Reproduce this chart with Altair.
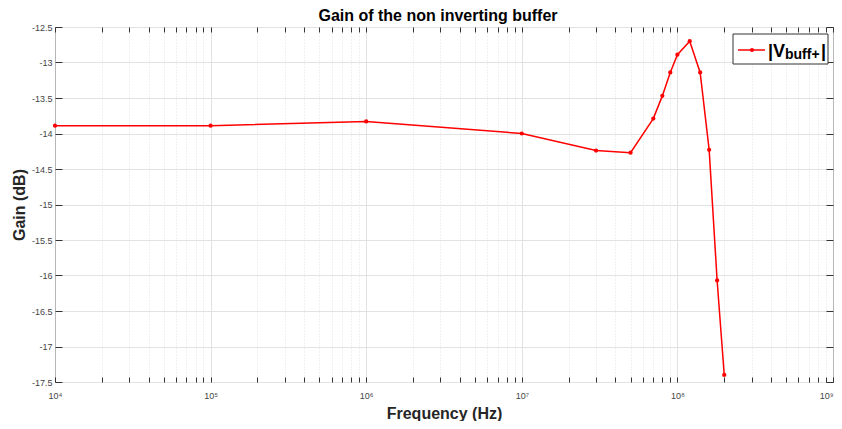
import altair as alt
import pandas as pd

# ---- data ----
freq_hz = [1e4, 1e5, 1e6, 1e7, 3e7, 5e7, 7e7, 8e7, 9e7, 1e8, 1.2e8, 1.4e8, 1.6e8, 1.8e8, 2e8]
gain_db = [-13.89, -13.89, -13.83, -14.00, -14.24, -14.27, -13.79, -13.47, -13.14,
           -12.89, -12.70, -13.14, -14.23, -16.07, -17.40]

x_major = [1e4, 1e5, 1e6, 1e7, 1e8, 1e9]
x_minor = [m * d for d in [1e4, 1e5, 1e6, 1e7, 1e8] for m in [2, 3, 4, 5, 6, 7, 8, 9]]
y_ticks = [-17.5, -17.0, -16.5, -16.0, -15.5, -15.0, -14.5, -14.0, -13.5, -13.0, -12.5]

title_text = "Gain of the non inverting buffer"
x_title = "Frequency (Hz)"
y_title = "Gain (dB)"
legend_parts = ["|V", "buff+", "|"]

df = pd.DataFrame({"freq": freq_hz, "gain": gain_db})
one = pd.DataFrame({"k": [0]})

FONT = "Liberation Sans"
RED = "#ff0000"
IS_MAJOR = "abs(log(datum.value)/LN10 - round(log(datum.value)/LN10)) < 0.001"
SUP = "['\u2070','\u00b9','\u00b2','\u00b3','\u2074','\u2075','\u2076','\u2077','\u2078','\u2079']"
X_LABEL = f"({IS_MAJOR}) ? '10' + {SUP}[round(log(datum.value)/LN10)] : ''"

xscale = alt.Scale(type="log", domain=[1e4, 1e9], nice=False)
yscale = alt.Scale(domain=[-17.5, -12.5], nice=False, zero=False)

x_bottom = alt.Axis(
    orient="bottom", values=x_major + x_minor, offset=-5, tickSize=5,
    tickColor="#333333", domain=False, labelExpr=X_LABEL, labelFontSize=9,
    labelColor="#444444", labelPadding=9, labelFlush=False, labelOverlap=False,
    labelAlign={"condition": {"test": "datum.value > 9.9e8", "value": "right"}, "value": "center"},
    grid=True,
    gridColor={"condition": {"test": IS_MAJOR, "value": "#d9d9d9"}, "value": "#e2e2e2"},
    gridDash={"condition": {"test": IS_MAJOR, "value": [1, 0]}, "value": [1, 2]},
    title=x_title, titleFontSize=16, titleFontWeight="bold", titleColor="#262626",
    titlePadding=5, titleFont=FONT, labelFont=FONT,
)
y_left = alt.Axis(
    orient="left", values=y_ticks, offset=-7, tickSize=7, tickColor="#333333",
    domain=False, labelExpr="'' + datum.value", labelFontSize=9,
    labelColor="#444444", labelPadding=3, grid=True, gridColor="#e2e2e2",
    title=y_title, titleFontSize=16, titleFontWeight="bold", titleColor="#262626",
    titlePadding=4, titleFont=FONT, labelFont=FONT,
)
x_top = alt.Axis(orient="top", values=x_major + x_minor, offset=-5, tickSize=5,
                 tickColor="#333333", domain=False, labels=False, grid=False)
y_right = alt.Axis(orient="right", values=y_ticks, offset=-7, tickSize=7,
                   tickColor="#333333", domain=False, labels=False, grid=False)

line = alt.Chart(df).mark_line(color=RED, strokeWidth=1.5).encode(
    x=alt.X("freq:Q", scale=xscale, axis=x_bottom),
    y=alt.Y("gain:Q", scale=yscale, axis=y_left),
)
pts = alt.Chart(df).mark_point(filled=True, color=RED, size=18, opacity=1).encode(
    x=alt.X("freq:Q", scale=xscale, axis=x_top, title=""),
    y=alt.Y("gain:Q", scale=yscale, axis=y_right, title=""),
)

# ---- chart title as text above the plot ----
title_mark = alt.Chart(pd.DataFrame({"t": [title_text]})).mark_text(
    align="center", baseline="alphabetic", fontSize=16, fontWeight="bold",
    color="#000000", font=FONT).encode(x=alt.value(383), y=alt.value(-6), text="t:N")

# ---- legend box ----
leg_box = alt.Chart(one).mark_rect(fill="white", stroke="#333333", strokeWidth=1).encode(
    x=alt.value(678), x2=alt.value(773), y=alt.value(7), y2=alt.value(37))
leg_line = alt.Chart(one).mark_rule(color=RED, strokeWidth=1.5).encode(
    x=alt.value(683), x2=alt.value(710), y=alt.value(23))
leg_pt = alt.Chart(one).mark_point(filled=True, color=RED, size=18, opacity=1).encode(
    x=alt.value(697), y=alt.value(23))


def leg_text(s, xpos, ypos, size):
    return alt.Chart(pd.DataFrame({"t": [s]})).mark_text(
        align="left", baseline="alphabetic", fontSize=size, fontWeight="bold",
        color="#000000", font=FONT).encode(x=alt.value(xpos), y=alt.value(ypos), text="t:N")


leg_t1 = leg_text(legend_parts[0], 713, 30, 18)
leg_t2 = leg_text(legend_parts[1], 730, 32, 14)
leg_t3 = leg_text(legend_parts[2], 766, 30, 18)

chart = alt.layer(
    line, pts, title_mark, leg_box, leg_line, leg_pt, leg_t1, leg_t2, leg_t3
).resolve_axis(
    x="independent", y="independent"
).properties(
    width=778, height=355,
    padding={"left": 47, "top": 19, "right": 1, "bottom": 39},
    autosize=alt.AutoSizeParams(type="none"),
).configure(font=FONT).configure_view(stroke="#555555", strokeWidth=1)

chart.save("out.html", embed_options={"renderer": "svg", "actions": False})
